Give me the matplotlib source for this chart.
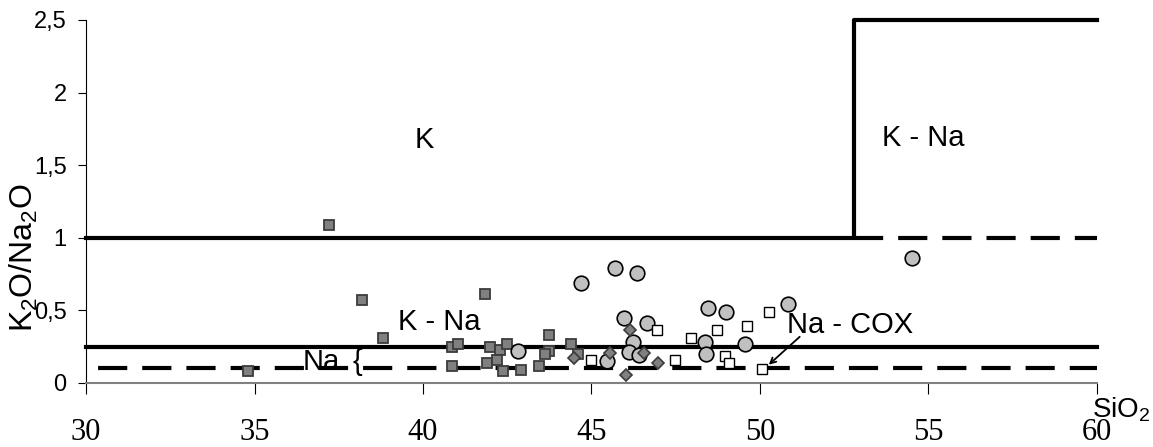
import numpy as np
import matplotlib
matplotlib.use('Agg')
import matplotlib.pyplot as plt

plt.rcParams['font.family'] = ['Liberation Sans', 'DejaVu Sans']
plt.rcParams['mathtext.fontset'] = 'custom'
plt.rcParams['mathtext.rm'] = 'Liberation Sans'
plt.rcParams['mathtext.it'] = 'Liberation Sans:italic'

# series 1: dark grey squares
sq_x = [34.8, 37.2, 38.2, 38.8, 40.87, 41.05, 40.87, 41.84, 41.99, 42.28, 42.48,
        41.89, 42.19, 42.38, 42.9, 43.74, 43.74, 43.62, 43.44, 44.38, 44.61]
sq_y = [0.08, 1.09, 0.57, 0.31, 0.25, 0.27, 0.12, 0.61, 0.25, 0.23, 0.27,
        0.135, 0.16, 0.08, 0.09, 0.33, 0.22, 0.20, 0.12, 0.27, 0.20]

# series 2: light grey circles
ci_x = [42.83, 44.69, 45.70, 46.36, 45.95, 46.66, 46.22, 46.11, 46.42, 45.45,
        48.45, 48.98, 48.37, 48.39, 49.57, 50.82, 54.5]
ci_y = [0.22, 0.69, 0.795, 0.76, 0.45, 0.41, 0.285, 0.215, 0.19, 0.15,
        0.515, 0.49, 0.285, 0.20, 0.27, 0.545, 0.86]

# series 3: grey diamonds
di_x = [44.48, 45.55, 46.14, 46.57, 46.98, 46.02]
di_y = [0.17, 0.205, 0.365, 0.205, 0.14, 0.055]

# series 4: open squares
ws_x = [44.98, 46.95, 47.48, 47.95, 48.73, 49.62, 50.27, 48.96, 49.09, 50.05]
ws_y = [0.16, 0.365, 0.16, 0.31, 0.365, 0.39, 0.49, 0.185, 0.135, 0.095]

# field boundaries
solid_x = [30, 52.8, 52.8, 60]
solid_y = [1, 1, 2.5, 2.5]
mid_x = [30, 60]
mid_y = [0.25, 0.25]
dash1_x = [52.8, 60]
dash1_y = [1, 1]
dash2_x = [30, 60]
dash2_y = [0.1, 0.1]

xticks = [30, 35, 40, 45, 50, 55, 60]
yticks = [0, 0.5, 1, 1.5, 2, 2.5]
ylabels = ['0', '0,5', '1', '1,5', '2', '2,5']

fig = plt.figure(figsize=(11.53, 4.47), dpi=100)
ax = fig.add_axes([0.0746, 0.1432, 0.8768, 0.8121])

lw = 3
ax.plot(solid_x, solid_y, c='k', lw=lw, clip_on=False, zorder=2)
ax.plot(mid_x, mid_y, c='k', lw=lw, clip_on=False, zorder=2)
ax.plot(dash1_x, dash1_y, c='k', lw=lw, ls=(0, (7, 3.6)), clip_on=False, zorder=2)
ax.plot(dash2_x, dash2_y, c='k', lw=lw, ls=(7.7, (7, 3.6)), clip_on=False, zorder=2)

ax.plot(sq_x, sq_y, ls='none', marker='s', ms=7, mfc='#808080', mec='#3c3c3c',
        mew=1.3, clip_on=False, zorder=3)
ax.plot(ci_x, ci_y, ls='none', marker='o', ms=10.5, mfc='#c0c0c0', mec='k',
        mew=1.2, clip_on=False, zorder=4)
ax.plot(di_x, di_y, ls='none', marker='D', ms=6, mfc='#808080', mec='#3c3c3c',
        mew=1.2, clip_on=False, zorder=5)
ax.plot(ws_x, ws_y, ls='none', marker='s', ms=6.5, mfc='white', mec='k',
        mew=1.0, clip_on=False, zorder=5)

# field labels
fs = 21
ax.text(39.76, 1.62, 'K', fontsize=fs, va='baseline')
ax.text(53.62, 1.63, 'K - Na', fontsize=fs, va='baseline')
ax.text(39.26, 0.366, 'K - Na', fontsize=fs, va='baseline')
ax.text(36.44, 0.09, 'Na', fontsize=fs, va='baseline', zorder=1)
ax.text(37.92, 0.09, '{', fontsize=fs, va='baseline', zorder=6)
ax.text(50.8, 0.345, 'Na - COX', fontsize=fs, va='baseline', zorder=6)
ax.annotate('', xy=(50.2, 0.113), xytext=(51.24, 0.331),
            arrowprops=dict(arrowstyle='->', color='k', lw=1.3), zorder=6)

ax.set_xlim(30, 60)
ax.set_ylim(0, 2.5)
ax.set_xticks(xticks)
ax.set_xticklabels([str(t) for t in xticks], family='Liberation Serif', fontsize=22)
ax.set_yticks(yticks)
ax.set_yticklabels(ylabels, fontsize=17)
ax.tick_params(axis='x', length=8, width=0.8, pad=17)
ax.tick_params(axis='y', length=6, width=0.8, pad=8)

for s in ['top', 'right']:
    ax.spines[s].set_visible(False)
ax.spines['left'].set_linewidth(0.8)
ax.spines['bottom'].set_color('#808080')
ax.spines['bottom'].set_linewidth(1.5)

fig.text(24 / 1153, 1 - 258 / 447, r'K$_\mathrm{2}$O/Na$_\mathrm{2}$O',
         rotation=90, fontsize=23, ha='center', va='center')
fig.text(1121 / 1153, 1 - 410 / 447, r'SiO$_\mathrm{2}$',
         fontsize=20, ha='center', va='center')

plt.savefig('out.png')
